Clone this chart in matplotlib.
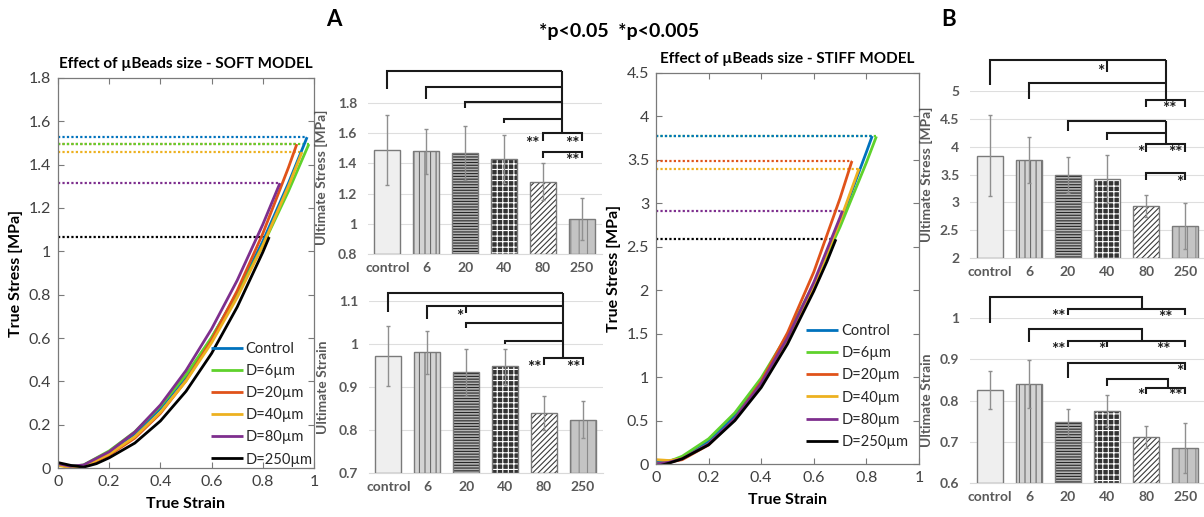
import matplotlib
matplotlib.use("Agg")
import matplotlib.pyplot as plt
from matplotlib.ticker import FuncFormatter
from matplotlib.transforms import offset_copy
import numpy as np

plt.rcParams['font.family'] = ['Lato', 'DejaVu Sans']
plt.rcParams['hatch.linewidth'] = 0.8

# ---------------- data ----------------
series_labels = ['Control', 'D=6µm', 'D=20µm', 'D=40µm', 'D=80µm', 'D=250µm']
series_colors = ['#0072BD', '#5FD22C', '#E0531A', '#EDB120', '#7E2F8E', '#000000']

# SOFT MODEL stress-strain curves
soft_control_strain = [0, 0.05, 0.1, 0.2, 0.3, 0.4, 0.5, 0.6, 0.7, 0.8, 0.9, 0.973]
soft_control_stress = [0.02, 0.008, 0.012, 0.072, 0.158, 0.275, 0.422, 0.600, 0.809, 1.046, 1.314, 1.527]
soft_d6_strain = [0, 0.05, 0.1, 0.2, 0.3, 0.4, 0.5, 0.6, 0.7, 0.8, 0.9, 0.98]
soft_d6_stress = [0.02, 0.008, 0.014, 0.079, 0.167, 0.285, 0.430, 0.603, 0.802, 1.027, 1.277, 1.495]
soft_d20_strain = [0, 0.05, 0.1, 0.2, 0.3, 0.4, 0.5, 0.6, 0.7, 0.8, 0.9, 0.933]
soft_d20_stress = [0.015, 0.003, 0.006, 0.059, 0.138, 0.252, 0.403, 0.591, 0.818, 1.082, 1.386, 1.495]
soft_d40_strain = [0, 0.05, 0.1, 0.2, 0.3, 0.4, 0.5, 0.6, 0.7, 0.8, 0.9, 0.953]
soft_d40_stress = [0.012, 0.002, 0.008, 0.064, 0.144, 0.257, 0.401, 0.578, 0.787, 1.027, 1.300, 1.458]
soft_d80_strain = [0, 0.05, 0.1, 0.2, 0.3, 0.4, 0.5, 0.6, 0.7, 0.8, 0.867]
soft_d80_stress = [0.02, 0.008, 0.014, 0.075, 0.166, 0.291, 0.450, 0.642, 0.866, 1.124, 1.315]
soft_d250_strain = [0, 0.05, 0.1, 0.15, 0.2, 0.3, 0.4, 0.5, 0.6, 0.7, 0.8, 0.825]
soft_d250_stress = [0.025, 0.012, 0.004, 0.02, 0.047, 0.115, 0.217, 0.354, 0.529, 0.743, 0.996, 1.066]

# STIFF MODEL stress-strain curves
stiff_control_strain = [0, 0.05, 0.1, 0.2, 0.3, 0.4, 0.5, 0.6, 0.7, 0.8, 0.822]
stiff_control_stress = [0.03, 0.035, 0.07, 0.26, 0.56, 0.96, 1.47, 2.07, 2.78, 3.59, 3.774]
stiff_d6_strain = [0, 0.05, 0.1, 0.2, 0.3, 0.4, 0.5, 0.6, 0.7, 0.8, 0.838]
stiff_d6_stress = [-0.03, 0.03, 0.09, 0.29, 0.59, 0.99, 1.49, 2.07, 2.73, 3.47, 3.77]
stiff_d20_strain = [0, 0.05, 0.1, 0.2, 0.3, 0.4, 0.5, 0.6, 0.7, 0.745]
stiff_d20_stress = [0.0, 0.02, 0.05, 0.22, 0.52, 0.95, 1.51, 2.21, 3.06, 3.487]
stiff_d40_strain = [0, 0.05, 0.1, 0.2, 0.3, 0.4, 0.5, 0.6, 0.7, 0.772]
stiff_d40_stress = [0.05, 0.04, 0.06, 0.23, 0.51, 0.91, 1.43, 2.05, 2.80, 3.40]
stiff_d80_strain = [0, 0.05, 0.1, 0.2, 0.3, 0.4, 0.5, 0.6, 0.7, 0.709]
stiff_d80_stress = [0.0, 0.02, 0.06, 0.23, 0.52, 0.93, 1.45, 2.09, 2.84, 2.915]
stiff_d250_strain = [0, 0.05, 0.1, 0.2, 0.3, 0.4, 0.5, 0.6, 0.65, 0.684]
stiff_d250_stress = [-0.03, 0.01, 0.06, 0.22, 0.50, 0.88, 1.38, 1.99, 2.33, 2.586]

# bar charts (mean ± SD)
categories = ['control', '6', '20', '40', '80', '250']
soft_stress_mean = [1.49, 1.48, 1.47, 1.43, 1.28, 1.03]
soft_stress_sd = [0.23, 0.15, 0.18, 0.16, 0.12, 0.14]
soft_strain_mean = [0.972, 0.981, 0.934, 0.948, 0.840, 0.824]
soft_strain_sd = [0.07, 0.05, 0.054, 0.04, 0.04, 0.043]
stiff_stress_mean = [3.84, 3.76, 3.49, 3.42, 2.93, 2.58]
stiff_stress_sd = [0.73, 0.41, 0.32, 0.43, 0.20, 0.41]
stiff_strain_mean = [0.825, 0.840, 0.747, 0.775, 0.712, 0.685]
stiff_strain_sd = [0.046, 0.058, 0.033, 0.039, 0.027, 0.060]

# ---------------- figure ----------------
W, H = 1204, 517
fig = plt.figure(figsize=(W / 100, H / 100), dpi=100)


def px_axes(x0, y0, x1, y1):
    return fig.add_axes([x0 / W, 1 - y1 / H, (x1 - x0) / W, (y1 - y0) / H])


gfmt = FuncFormatter(lambda v, p: '%g' % round(v, 3))
AX_GRAY = '#7a7a7a'


def curve_panel(ax, curves, title, ymax, ystep, legend_anchor):
    # dotted guides at each curve's ultimate stress (control drawn last, on top)
    for (xs, ys), color in reversed(list(zip(curves, series_colors))):
        ax.plot([0, xs[-1]], [ys[-1], ys[-1]], ls=(0, (1, 1)), color=color, lw=1.6)
    for (xs, ys), color, label in zip(curves, series_colors, series_labels):
        ax.plot(xs, ys, color=color, lw=2.0, label=label, solid_capstyle='butt')
    ax.set_xlim(0, 1)
    ax.set_ylim(0, ymax)
    ax.set_xticks(np.arange(0, 1.01, 0.2))
    ax.set_yticks(np.arange(0, ymax + 1e-9, ystep))
    ax.xaxis.set_major_formatter(gfmt)
    ax.yaxis.set_major_formatter(gfmt)
    ax.tick_params(direction='in', top=True, right=True, length=4, width=0.8,
                   color=AX_GRAY, labelcolor='#404040', labelsize=11.5, pad=5)
    for s in ax.spines.values():
        s.set_color(AX_GRAY)
        s.set_linewidth(0.9)
    ax.set_title(title, fontsize=11, fontweight='bold', pad=7)
    ax.set_xlabel('True Strain', fontsize=11.5, fontweight='bold', labelpad=6)
    ax.set_ylabel('True Stress [MPa]', fontsize=11.5, fontweight='bold', labelpad=4)
    leg = ax.legend(loc='lower right', bbox_to_anchor=legend_anchor, frameon=False,
                    fontsize=10.5, handlelength=2.2, handletextpad=0.2,
                    labelspacing=0.56, borderaxespad=0, borderpad=0.1)
    for t in leg.get_texts():
        t.set_color('#262626')


bar_styles = [
    ('#efefef', None, '#efefef'),
    ('#d4d4d4', '|||', '#6a6a6a'),
    ('#b4b4b4', '------', '#262626'),
    ('#333333', '+++', '#ffffff'),
    ('#ffffff', '//////', '#3a3a3a'),
    ('#c4c4c4', '||', '#8a8a8a'),
]


def bar_panel(ax, means, sds, ylim, yticks, ylabel, label_x):
    x = np.arange(len(categories))
    base = ylim[0]
    for i, (m, (face, hatch, hcol)) in enumerate(zip(means, bar_styles)):
        ax.bar(x[i], m - base, bottom=base, width=0.67, color=face, edgecolor=hcol,
               hatch=hatch, lw=0, zorder=2)
        ax.bar(x[i], m - base, bottom=base, width=0.67, fill=False,
               edgecolor='#7a7a7a', lw=1.0, zorder=3)
    ax.errorbar(x, means, yerr=sds, fmt='none', ecolor='#8f8f8f', elinewidth=1.0,
                capsize=1.5, capthick=1.0, zorder=4)
    ax.set_xlim(-0.5, 5.52)
    ax.set_ylim(*ylim)
    ax.set_yticks(yticks)
    ax.yaxis.set_major_formatter(gfmt)
    ax.set_xticks(x)
    ax.set_xticklabels(categories)
    ax.set_axisbelow(True)
    ax.yaxis.grid(True, color='#dedede', lw=0.8)
    for side in ('left', 'top', 'right'):
        ax.spines[side].set_visible(False)
    ax.spines['bottom'].set_color('#d9d9d9')
    ax.tick_params(length=0, labelcolor='#595959', labelsize=10)
    ax.tick_params(axis='y', pad=8)
    ax.tick_params(axis='x', pad=6)
    for t in ax.get_xticklabels() + ax.get_yticklabels():
        t.set_fontweight('bold')
    ax.set_ylabel(ylabel, fontsize=10, fontweight='bold', color='#595959')
    ax.yaxis.set_label_coords(label_x, 0.5)


def lines(ax, paths):
    for p in paths:
        xs, ys = zip(*p)
        ax.plot(xs, ys, color='#1a1a1a', lw=1.5, clip_on=False, zorder=6,
                solid_joinstyle='miter', solid_capstyle='butt')


def stars(ax, items):
    tr = offset_copy(ax.transData, fig=fig, x=0, y=-4, units='dots')
    for x, y, s in items:
        ax.text(x, y, s, ha='center', va='center', fontsize=12.5, fontweight='bold',
                color='#1a1a1a', clip_on=False, zorder=6, transform=tr)


# ---- soft model curves ----
ax1 = px_axes(58, 78, 314, 468)
curve_panel(ax1,
            [(soft_control_strain, soft_control_stress), (soft_d6_strain, soft_d6_stress),
             (soft_d20_strain, soft_d20_stress), (soft_d40_strain, soft_d40_stress),
             (soft_d80_strain, soft_d80_stress), (soft_d250_strain, soft_d250_stress)],
            'Effect of µBeads size - SOFT MODEL', 1.8, 0.2, (1.0, 0.0))

# ---- soft model ultimate stress ----
ax2 = px_axes(368, 100, 602, 254)
bar_panel(ax2, soft_stress_mean, soft_stress_sd, (0.8, 1.82),
          [0.8, 1.0, 1.2, 1.4, 1.6, 1.8], 'Ultimate Stress [MPa]', -0.17)
lines(ax2, [
    [(0, 1.893), (0, 2.012), (4.5, 2.012)],
    [(1, 1.826), (1, 1.906), (4.5, 1.906)],
    [(2, 1.767), (2, 1.807), (4.5, 1.807)],
    [(3, 1.668), (3, 1.694), (4.5, 1.694)],
    [(4.5, 2.012), (4.5, 1.601)],
    [(4, 1.548), (4, 1.601), (5, 1.601), (5, 1.548)],
    [(4, 1.436), (4, 1.475), (5, 1.475), (5, 1.436)],
])
stars(ax2, [(3.74, 1.555, '**'), (4.76, 1.555, '**'), (4.76, 1.44, '**')])

# ---- soft model ultimate strain ----
ax3 = px_axes(369, 301, 603, 473)
bar_panel(ax3, soft_strain_mean, soft_strain_sd, (0.7, 1.1),
          [0.7, 0.8, 0.9, 1.0, 1.1], 'Ultimate Strain', -0.17)
lines(ax3, [
    [(0, 1.074), (0, 1.119), (4.5, 1.119)],
    [(1, 1.058), (1, 1.088), (4.5, 1.088)],
    [(2, 1.088), (2, 1.072)],
    [(2, 1.037), (2, 1.049), (4.5, 1.049)],
    [(3, 1.0), (3, 1.007), (4.5, 1.007)],
    [(4.5, 1.119), (4.5, 0.967)],
    [(4, 0.951), (4, 0.967), (5, 0.967), (5, 0.951)],
])
stars(ax3, [(1.84, 1.072, '*'), (3.76, 0.954, '**'), (4.76, 0.954, '**')])

# ---- stiff model curves ----
ax4 = px_axes(656, 73, 919, 464)
curve_panel(ax4,
            [(stiff_control_strain, stiff_control_stress), (stiff_d6_strain, stiff_d6_stress),
             (stiff_d20_strain, stiff_d20_stress), (stiff_d40_strain, stiff_d40_stress),
             (stiff_d80_strain, stiff_d80_stress), (stiff_d250_strain, stiff_d250_stress)],
            'Effect of µBeads size - STIFF MODEL', 4.5, 0.5, (0.965, 0.035))

# ---- stiff model ultimate stress ----
ax5 = px_axes(970.4, 91, 1205.6, 258)
bar_panel(ax5, stiff_stress_mean, stiff_stress_sd, (2.0, 5.0),
          [2, 2.5, 3, 3.5, 4, 4.5, 5], 'Ultimate Stress [MPa]', -0.16)
lines(ax5, [
    [(0, 5.108), (0, 5.557), (4.5, 5.557)],
    [(3, 5.557), (3, 5.34)],
    [(1, 4.856), (1, 5.144), (4.5, 5.144)],
    [(4.5, 5.557), (4.5, 4.838)],
    [(4, 4.713), (4, 4.838), (5, 4.838), (5, 4.713)],
    [(2, 4.281), (2, 4.461), (4.5, 4.461)],
    [(3, 4.12), (3, 4.246), (4.5, 4.246)],
    [(4.5, 4.461), (4.5, 4.048)],
    [(4, 3.904), (4, 4.048), (5, 4.048), (5, 3.904)],
    [(4, 3.401), (4, 3.527), (5, 3.527), (5, 3.401)],
])
stars(ax5, [(2.85, 5.42, '*'), (4.6, 4.74, '**'), (3.85, 3.96, '*'),
            (4.74, 3.96, '**'), (4.87, 3.42, '*')])

# ---- stiff model ultimate strain ----
ax6 = px_axes(970.4, 318, 1205.6, 483)
bar_panel(ax6, stiff_strain_mean, stiff_strain_sd, (0.6, 1.0),
          [0.6, 0.7, 0.8, 0.9, 1.0], 'Ultimate Strain', -0.16)
lines(ax6, [
    [(0, 0.988), (0, 1.051), (3.9, 1.051), (3.9, 1.022)],
    [(2, 1.007), (2, 1.022), (5, 1.022), (5, 1.007)],
    [(1, 0.942), (1, 0.973), (3.9, 0.973), (3.9, 0.944)],
    [(2, 0.930), (2, 0.944), (5, 0.944), (5, 0.930)],
    [(3, 0.944), (3, 0.930)],
    [(2, 0.8545), (2, 0.8909), (5, 0.8909), (5, 0.874)],
    [(3, 0.8352), (3, 0.8521), (4.57, 0.8521), (4.57, 0.8303)],
    [(4, 0.8158), (4, 0.8303), (5, 0.8303), (5, 0.8158)],
])
stars(ax6, [(1.76, 1.012, '**'), (4.48, 1.010, '**'), (1.76, 0.932, '**'),
            (2.86, 0.932, '*'), (4.44, 0.932, '**'), (4.87, 0.878, '*'),
            (3.86, 0.820, '*'), (4.76, 0.820, '**')])

# ---- panel letters and significance legend ----
fig.text(334 / W, 1 - 19 / H, 'A', fontsize=16, fontweight='bold', ha='center', va='center')
fig.text(949 / W, 1 - 19 / H, 'B', fontsize=16, fontweight='bold', ha='center', va='center')
fig.text(619 / W, 1 - 31 / H, '*p<0.05  *p<0.005', fontsize=14, fontweight='bold',
         ha='center', va='center')

fig.savefig('out.png', dpi=100)
